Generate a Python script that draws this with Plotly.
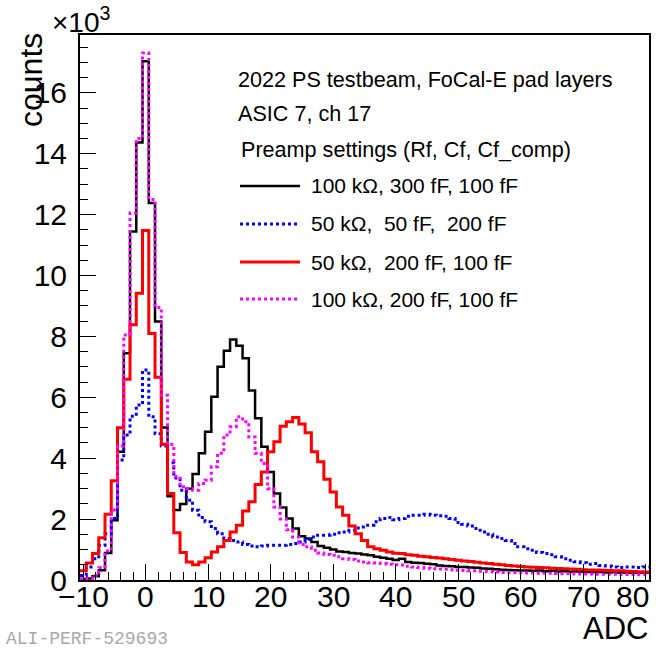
import numpy as np
import plotly.graph_objects as go

# ---------------- data (counts in units of 10^3) ----------------
adc_bins = list(range(-10, 81))  # bin centres, bin width 1

black_k = [0.03, 0.05, 0.12, 0.32, 0.89, 1.96, 4.21, 7.45, 11.45, 14.37,
           17.04, 12.38, 8.49, 5.01, 2.75, 2.30, 2.50, 3.00, 3.48, 4.16,
           4.87, 6.02, 7.00, 7.53, 7.90, 7.69, 7.28, 6.22, 5.31, 4.38,
           3.55, 2.84, 2.38, 2.02, 1.69, 1.44, 1.36, 1.25, 1.12, 1.06,
           1.00, 0.94, 0.92, 0.89, 0.87, 0.84, 0.81, 0.76, 0.73, 0.70,
           0.66, 0.70, 0.59, 0.57, 0.56, 0.53, 0.52, 0.48, 0.46, 0.45,
           0.43, 0.43, 0.41, 0.40, 0.38, 0.37, 0.35, 0.34, 0.33, 0.32,
           0.31, 0.31, 0.30, 0.31, 0.29, 0.30, 0.28, 0.29, 0.27, 0.28,
           0.27, 0.26, 0.27, 0.26, 0.25, 0.26, 0.25, 0.24, 0.25, 0.24, 0.24]

blue_k = [0.15, 0.43, 0.70, 1.14, 1.52, 2.02, 3.94, 4.76, 5.38, 5.75,
          6.90, 5.36, 4.80, 4.40, 3.85, 3.35, 2.95, 2.62, 2.29, 2.05,
          1.91, 1.69, 1.52, 1.36, 1.30, 1.25, 1.17, 1.12, 1.09, 1.12,
          1.14, 1.14, 1.14, 1.17, 1.20, 1.25, 1.33, 1.41, 1.47, 1.47,
          1.50, 1.55, 1.58, 1.63, 1.71, 1.74, 1.80, 1.91, 2.02, 2.05,
          1.98, 2.02, 2.09, 2.13, 2.13, 2.16, 2.13, 2.11, 2.09, 2.02,
          1.89, 1.83, 1.77, 1.69, 1.58, 1.50, 1.41, 1.36, 1.30, 1.20,
          1.09, 1.03, 0.98, 0.90, 0.87, 0.83, 0.76, 0.70, 0.65, 0.60,
          0.57, 0.52, 0.54, 0.48, 0.46, 0.43, 0.41, 0.43, 0.43, 0.41, 0.43]

red_k = [0.30, 0.56, 0.87, 1.39, 2.16, 3.26, 5.00, 6.59, 8.38, 9.42,
         11.48, 8.10, 6.66, 4.46, 2.84, 1.55, 0.90, 0.59, 0.50, 0.59,
         0.73, 0.92, 1.09, 1.30, 1.58, 1.80, 2.27, 2.57, 3.14, 3.55,
         4.21, 4.54, 5.05, 5.20, 5.34, 5.12, 4.84, 4.21, 3.88, 3.31,
         2.89, 2.40, 2.13, 1.77, 1.52, 1.30, 1.09, 1.03, 0.98, 0.92,
         0.88, 0.87, 0.83, 0.81, 0.78, 0.76, 0.74, 0.72, 0.70, 0.67,
         0.65, 0.62, 0.61, 0.58, 0.56, 0.54, 0.52, 0.50, 0.48, 0.46,
         0.44, 0.43, 0.42, 0.41, 0.40, 0.39, 0.38, 0.37, 0.36, 0.35,
         0.34, 0.33, 0.33, 0.32, 0.31, 0.30, 0.30, 0.29, 0.28, 0.27, 0.26]

magenta_k = [0.03, 0.05, 0.15, 0.40, 0.95, 2.30, 4.40, 8.05, 12.05, 14.50,
             17.31, 12.50, 8.95, 6.07, 4.45, 3.40, 3.06, 3.00, 2.95, 3.17,
             3.28, 3.72, 4.16, 4.76, 5.03, 5.36, 5.20, 4.70, 4.16, 3.83,
             3.00, 2.40, 2.00, 1.65, 1.41, 1.17, 1.09, 0.98, 0.89, 0.84,
             0.81, 0.76, 0.70, 0.67, 0.62, 0.59, 0.57, 0.56, 0.54, 0.52,
             0.50, 0.49, 0.45, 0.43, 0.41, 0.39, 0.37, 0.36, 0.35, 0.34,
             0.32, 0.31, 0.30, 0.30, 0.29, 0.28, 0.26, 0.25, 0.24, 0.24,
             0.24, 0.23, 0.23, 0.22, 0.22, 0.22, 0.21, 0.21, 0.21, 0.20,
             0.20, 0.20, 0.19, 0.19, 0.19, 0.19, 0.18, 0.18, 0.18, 0.17, 0.17]

series_labels = ["100 k\u03a9, 300 fF, 100 fF",
                 "50 k\u03a9,\u00a0 50 fF,\u00a0 200 fF",
                 "50 k\u03a9,\u00a0 200 fF, 100 fF",
                 "100 k\u03a9, 200 fF, 100 fF"]
series_colors = ["#000000", "#0000ff", "#ff0000", "#ff00ff"]
series_dash = ["solid", "dot", "solid", "dot"]
series_width = [2.5, 3, 3, 3]
series_values = [black_k, blue_k, red_k, magenta_k]

header_lines = ["2022 PS testbeam, FoCal-E pad layers",
                "ASIC 7, ch 17",
                "Preamp settings (Rf, Cf, Cf_comp)"]

x_ticks = list(range(-10, 81, 10))
y_ticks = list(range(0, 17, 2))

# ---------------- layout geometry ----------------
W, H = 662, 653
L, R, T, B = 80, 13, 35, 73
PW, PH = W - L - R, H - T - B


def px2x(px):
    return (px - L) / PW


def py2y(py):
    return (H - B - py) / PH


FONT = "Liberation Sans, Arial, Helvetica, sans-serif"
TICK_SIZE = 30
XLABEL_PY = 596

fig = go.Figure()

centres = np.array(adc_bins, dtype=float)
edges = np.append(centres - 0.5, centres[-1] + 0.5)
for vals, name, col, dash, lw in zip(series_values, series_labels, series_colors,
                                     series_dash, series_width):
    y = np.append(np.array(vals), vals[-1])
    fig.add_trace(go.Scatter(x=edges, y=y, mode="lines", line_shape="hv",
                             line=dict(color=col, width=lw, dash=dash),
                             name=name, showlegend=False, hoverinfo="skip"))

fig.update_xaxes(range=[-10.5, 80.5], tickvals=x_ticks, showticklabels=False,
                 automargin=False,
                 ticks="inside", ticklen=16, tickwidth=1, tickcolor="black",
                 minor=dict(ticks="inside", ticklen=8, dtick=2, tick0=0,
                            tickcolor="black", tickwidth=1),
                 showline=True, linecolor="black", linewidth=2, mirror=True,
                 showgrid=False, zeroline=False)
fig.update_yaxes(range=[0, 17.9], tickvals=y_ticks, automargin=False,
                 ticks="inside", ticklen=16, tickwidth=1, tickcolor="black",
                 minor=dict(ticks="inside", ticklen=8, dtick=0.5, tick0=0,
                            tickcolor="black", tickwidth=1),
                 showline=True, linecolor="black", linewidth=2, mirror=True,
                 showgrid=False, zeroline=False, ticklabelstandoff=5,
                 tickfont=dict(family=FONT, size=TICK_SIZE, color="black"))

annotations = []
shapes = []

# x tick labels (ROOT style: the last one is pulled inside the pad)
for v in x_ticks:
    txt = "\u2212" + str(-v) if v < 0 else str(v)
    if v == x_ticks[-1]:
        annotations.append(dict(text=txt, xref="paper", yref="paper",
                                x=px2x(651), y=py2y(XLABEL_PY), xanchor="right",
                                yanchor="middle", showarrow=False,
                                font=dict(family=FONT, size=TICK_SIZE, color="black")))
    else:
        annotations.append(dict(text=txt, xref="x", yref="paper",
                                x=v, y=py2y(XLABEL_PY), xanchor="center",
                                yanchor="middle", showarrow=False,
                                font=dict(family=FONT, size=TICK_SIZE, color="black")))

# axis titles (ROOT style: aligned at the axis end)
annotations.append(dict(text="counts", textangle=-90, xref="paper", yref="paper",
                        x=px2x(31), y=py2y(31), xanchor="center", yanchor="top",
                        showarrow=False, font=dict(family=FONT, size=32, color="black")))
annotations.append(dict(text="ADC", xref="paper", yref="paper",
                        x=px2x(650), y=py2y(628), xanchor="right", yanchor="middle",
                        showarrow=False, font=dict(family=FONT, size=31, color="black")))
annotations.append(dict(text="\u00d710<sup>3</sup>", xref="paper", yref="paper",
                        x=px2x(50), y=py2y(20), xanchor="left", yanchor="middle",
                        showarrow=False, font=dict(family=FONT, size=28, color="black")))

# legend header
header_pos = [(236, 80), (236, 113), (239, 149)]
for txt, (hx, hy) in zip(header_lines, header_pos):
    annotations.append(dict(text=txt, xref="paper", yref="paper",
                            x=px2x(hx), y=py2y(hy), xanchor="left", yanchor="middle",
                            showarrow=False, font=dict(family=FONT, size=21.6, color="black")))

# legend entries
entry_y = [186, 224, 262, 299]
for name, col, dash, lw, ey in zip(series_labels, series_colors, series_dash,
                                   series_width, entry_y):
    shapes.append(dict(type="line", xref="paper", yref="paper",
                       x0=px2x(240), x1=px2x(300), y0=py2y(ey), y1=py2y(ey),
                       line=dict(color=col, width=lw, dash=dash)))
    annotations.append(dict(text=name, xref="paper", yref="paper",
                            x=px2x(309), y=py2y(ey), xanchor="left", yanchor="middle",
                            showarrow=False, font=dict(family=FONT, size=21, color="black")))

# watermark
annotations.append(dict(text="ALI-PERF-529693", xref="paper", yref="paper",
                        x=px2x(4), y=py2y(639), xanchor="left", yanchor="middle",
                        showarrow=False,
                        font=dict(family="Liberation Mono, Courier New, monospace",
                                  size=18, color="#a8a8a8")))

fig.update_layout(width=W, height=H, margin=dict(l=L, r=R, t=T, b=B, autoexpand=False),
                  paper_bgcolor="white", plot_bgcolor="white",
                  annotations=annotations, shapes=shapes, showlegend=False)

fig.write_html("out.html", config={"displayModeBar": False},
               post_script="document.body.style.margin='0';document.body.style.padding='0';")
